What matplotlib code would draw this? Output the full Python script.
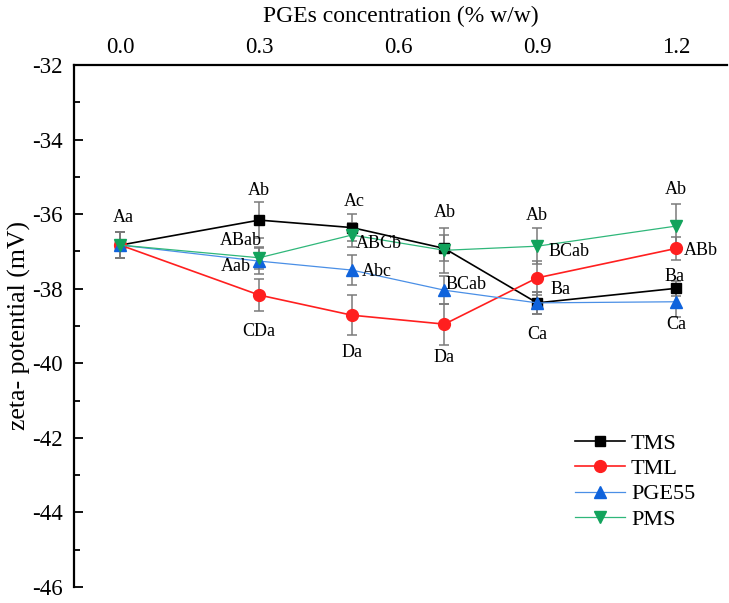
import numpy as np
import matplotlib
matplotlib.use("Agg")
import matplotlib.pyplot as plt
from matplotlib.ticker import MultipleLocator

plt.rcParams['font.family'] = ['Liberation Serif', 'DejaVu Serif']

# PGEs concentration (% w/w)
conc = [0.0, 0.3, 0.5, 0.7, 0.9, 1.2]
xticks = [0.0, 0.3, 0.6, 0.9, 1.2]

# zeta potential (mV) and standard deviations
tms = [-36.83, -36.16, -36.36, -36.92, -38.38, -37.99]
tms_err = [0.34, 0.49, 0.37, 0.35, 0.30, 0.20]
tml = [-36.83, -38.17, -38.71, -38.95, -37.71, -36.92]
tml_err = [0.34, 0.43, 0.54, 0.55, 0.45, 0.31]
pge55 = [-36.83, -37.26, -37.50, -38.04, -38.38, -38.35]
pge55_err = [0.34, 0.35, 0.40, 0.38, 0.30, 0.40]
pms = [-36.83, -37.17, -36.56, -36.97, -36.86, -36.32]
pms_err = [0.34, 0.30, 0.33, 0.60, 0.48, 0.60]

# significance letters
tms_lab = ["Aa", "Ab", "Ac", "", "Ba", "Ba"]
tml_lab = ["", "CDa", "Da", "Da", "BCab", "ABb"]
pge55_lab = ["", "Aab", "Abc", "BCab", "Ca", "Ca"]
pms_lab = ["", "ABab", "ABCb", "Ab", "Ab", "Ab"]

# label offsets in pixels (dx right, dy down)
tms_off = [(3, -28), (0, -30), (2, -26), (0, 0), (23, -13), (-2, -12)]
tml_off = [(0, 0), (0, 36), (0, 37), (0, 33), (32, -26), (25, 2)]
pge55_off = [(0, 0), (-23, 5), (25, 1), (22, -6), (0, 32), (0, 23)]
pms_off = [(0, 0), (-18, -17), (27, 8), (0, -38), (0, -31), (0, -37)]

series = [
    ("TMS", tms, tms_err, tms_lab, tms_off, 's', 'black', 'black', 1.2, 7.5),
    ("TML", tml, tml_err, tml_lab, tml_off, 'o', '#ff1f1f', '#ff1f1f', 1.2, 8.5),
    ("PGE55", pge55, pge55_err, pge55_lab, pge55_off, '^', '#4a8fe6', '#0f63dc', 0.9, 8.5),
    ("PMS", pms, pms_err, pms_lab, pms_off, 'v', '#2fb77a', '#12a35c', 0.9, 8.5),
]

fig = plt.figure(figsize=(7.29, 6.03), dpi=100)
ax = fig.add_axes([74/729, 1-587/603, (727-74)/729, (587-65)/603])

handles = []
for i, (name, y, err, labs, offs, mk, lc, mc, lw, ms) in enumerate(series):
    ax.errorbar(conc, y, yerr=err, fmt='none', ecolor='#7a7a7a',
                elinewidth=1.1, capsize=3.5, capthick=1.1, zorder=2+i)
    h, = ax.plot(conc, y, '-', color=lc, lw=lw, marker=mk, markersize=ms,
                 markerfacecolor=mc, markeredgecolor=mc, label=name,
                 zorder=6+i)
    handles.append(h)
    for xv, yv, t, (dx, dy) in zip(conc, y, labs, offs):
        if t:
            ax.annotate(t, (xv, yv), xytext=(dx, -dy), textcoords='offset pixels',
                        ha='center', va='center', fontsize=13, zorder=12)

ax.set_xlim(-0.1, 1.31)
ax.set_ylim(-46, -32)
ax.set_xticks(xticks)
ax.set_xticklabels(["%.1f" % v for v in xticks])
ax.xaxis.tick_top()
ax.xaxis.set_label_position('top')
ax.tick_params(axis='x', length=0, labelsize=16.5, pad=5)
ax.yaxis.set_minor_locator(MultipleLocator(1))
ax.set_yticks(np.arange(-46, -31, 2))
ax.set_yticklabels(["%d" % v for v in np.arange(-46, -31, 2)])
ax.tick_params(axis='y', which='major', direction='in', length=6.5, width=1.3,
               labelsize=16.5, pad=8)
ax.tick_params(axis='y', which='minor', direction='in', length=4, width=1.3)
for s in ['right', 'bottom']:
    ax.spines[s].set_visible(False)
for s in ['left', 'top']:
    ax.spines[s].set_linewidth(1.6)

ax.set_xlabel("PGEs concentration (% w/w)", fontsize=17, labelpad=10.5)
ax.set_ylabel("zeta- potential (mV)", fontsize=18.5, labelpad=0.5)

ax.legend(handles=handles, loc='upper left',
          bbox_to_anchor=(575/729, 1-433/603), bbox_transform=fig.transFigure,
          frameon=False, fontsize=16, borderpad=0, borderaxespad=0,
          labelspacing=0.22, handlelength=2.25, handletextpad=0.27)

fig.savefig("out.png", dpi=100)
